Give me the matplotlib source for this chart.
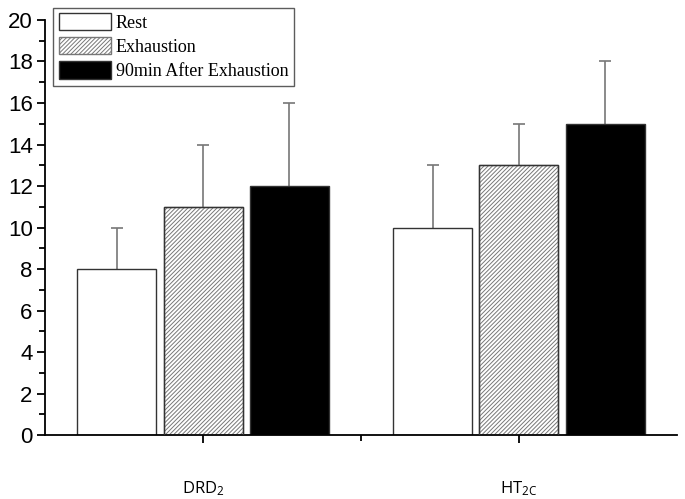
import numpy as np
import matplotlib
matplotlib.use('Agg')
import matplotlib.pyplot as plt

matplotlib.rcParams['hatch.linewidth'] = 0.7
matplotlib.rcParams['mathtext.default'] = 'regular'

groups = ['DRD$_2$', 'HT$_{2C}$']
conditions = ['Rest', 'Exhaustion', '90min After Exhaustion']
means = [[8, 10], [11, 13], [12, 15]]
errs = [[2, 3], [3, 2], [4, 3]]

faces = ['white', 'white', 'black']
hatches = [None, '////////', None]

fig = plt.figure(figsize=(6.85, 4.99), dpi=100)
ax = fig.add_axes([0.066, 0.128, 0.922, 0.832])

x = np.arange(1, len(groups) + 1)
width = 0.25
step = 0.273

for i, cond in enumerate(conditions):
    pos = x + (i - 1) * step
    ax.bar(pos, means[i], width, color=faces[i], edgecolor='#333333', linewidth=1.0,
           hatch=hatches[i], label=cond, zorder=2)
    if hatches[i]:
        # grey hatch lines, dark outline drawn on top
        for p in ax.patches[-len(groups):]:
            p.set_edgecolor('#777777')
        ax.bar(pos, means[i], width, fill=False, edgecolor='#333333', linewidth=1.0, zorder=3)
    eb = ax.errorbar(pos, means[i], yerr=[[0] * len(groups), errs[i]], fmt='none',
                     ecolor='#777777', elinewidth=1.2, capsize=4, capthick=1.2, zorder=1)
    eb[1][0].set_visible(False)

ax.set_xlim(0.5, 2.5)
ax.set_ylim(0, 20)
ax.set_yticks(np.arange(0, 21, 2))
ax.set_yticks(np.arange(1, 20, 2), minor=True)
ax.set_xticks(x)
ax.set_xticks([1.5], minor=True)
ax.set_xticklabels(groups, family='Open Sans', fontsize=12)
for lbl in ax.get_yticklabels():
    lbl.set_family('Liberation Sans')
    lbl.set_fontsize(16)

ax.spines['top'].set_visible(False)
ax.spines['right'].set_visible(False)
for s in ['left', 'bottom']:
    ax.spines[s].set_linewidth(1.3)
ax.tick_params(axis='both', which='major', direction='out', length=6, width=1.3)
ax.tick_params(axis='both', which='minor', direction='out', length=4, width=1.3)
ax.tick_params(axis='x', which='major', pad=26)
ax.tick_params(axis='y', which='major', pad=3)

handles, labels = ax.get_legend_handles_labels()
leg = ax.legend(handles, labels, loc='upper left', bbox_to_anchor=(0.013, 1.03),
                prop={'family': 'Liberation Serif', 'size': 13}, frameon=True,
                fancybox=False, edgecolor='#333333', handlelength=2.9, handleheight=1.1,
                handletextpad=0.25, labelspacing=0.3, borderpad=0.3, borderaxespad=0)
leg.get_frame().set_linewidth(1.0)

fig.savefig('out.png', dpi=100)
